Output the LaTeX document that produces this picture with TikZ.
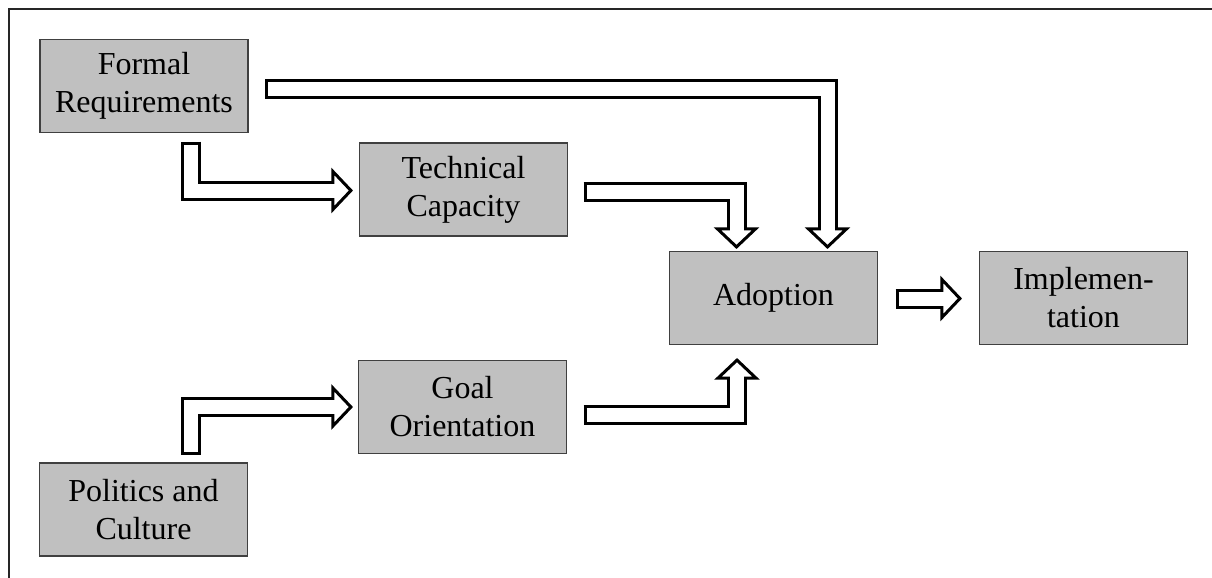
\documentclass[tikz,border=0pt]{standalone}
\usepackage{fontspec}
\setmainfont{Liberation Serif}
\usetikzlibrary{calc}
\definecolor{boxgray}{HTML}{C0C0C0}
\definecolor{boxline}{HTML}{404040}
\tikzset{
  box/.style={draw=boxline, line width=0.6pt, fill=boxgray, inner sep=0pt,
    minimum width=104pt, minimum height=46.5pt, align=center,
    font=\fontsize{16pt}{19pt}\selectfont},
  shaftout/.style={draw=black, line width=10pt, line join=miter, line cap=butt},
  shaftin/.style={draw=white, line width=7pt, line join=miter, line cap=butt, shorten <=1.5pt},
  headst/.style={draw=black, fill=white, line width=1.5pt, line join=miter},
}
\begin{document}
\begin{tikzpicture}[x=0.5pt,y=-0.5pt]
\useasboundingbox (0,0) rectangle (1212,578);
\draw[line width=1pt, draw=black!85] (8.5,600) -- (8.5,8.5) -- (1230,8.5);

\node[box] (fr) at (144,86) {Formal\\Requirements};
\node[box] (tc) at (463.5,189.5) {Technical\\Capacity};
\node[box] (ad) at (773.5,298) {Adoption};
\node[box] (im) at (1083.5,298) {Implemen-\\tation};
\node[box] (go) at (462.5,407) {Goal\\Orientation};
\node[box] (pc) at (143.5,509.5) {Politics and\\Culture};

% key coordinates of the connectors
\coordinate (s1) at ($(fr.east)+(16.5,2.5)$);
\coordinate (t1) at ($(ad.north)+(54,-4)$);
\coordinate (s2) at ($(fr.south)+(46.5,8.5)$);
\coordinate (t2) at ($(tc.west)+(-8,1)$);
\coordinate (s3) at ($(tc.east)+(15.5,2.5)$);
\coordinate (t3) at ($(ad.north)+(-37,-4)$);
\coordinate (s4) at ($(pc.north)+(47.5,-7.5)$);
\coordinate (t4) at ($(go.west)+(-7,0)$);
\coordinate (s5) at ($(go.east)+(16.5,8)$);
\coordinate (t5) at ($(ad.south)+(-36.5,15)$);
\coordinate (s6) at ($(ad.east)+(17.5,0.5)$);
\coordinate (t6) at ($(im.west)+(-19,0.5)$);

% Formal Requirements -> Adoption
\draw[shaftout] (s1) -- (t1 |- s1) -- ($(t1)+(0,-18)$);
\draw[headst] ($(t1)+(-19,-18)$) -- (t1) -- ($(t1)+(19,-18)$) -- cycle;
\draw[shaftin] (s1) -- (t1 |- s1) -- ($(t1)+(0,-16)$);

% Formal Requirements -> Technical Capacity
\draw[shaftout] (s2) -- (s2 |- t2) -- ($(t2)+(-18,0)$);
\draw[headst] ($(t2)+(-18,-19)$) -- (t2) -- ($(t2)+(-18,19)$) -- cycle;
\draw[shaftin] (s2) -- (s2 |- t2) -- ($(t2)+(-16,0)$);

% Technical Capacity -> Adoption
\draw[shaftout] (s3) -- (t3 |- s3) -- ($(t3)+(0,-18)$);
\draw[headst] ($(t3)+(-19,-18)$) -- (t3) -- ($(t3)+(19,-18)$) -- cycle;
\draw[shaftin] (s3) -- (t3 |- s3) -- ($(t3)+(0,-16)$);

% Politics and Culture -> Goal Orientation
\draw[shaftout] (s4) -- (s4 |- t4) -- ($(t4)+(-18,0)$);
\draw[headst] ($(t4)+(-18,-19)$) -- (t4) -- ($(t4)+(-18,19)$) -- cycle;
\draw[shaftin] (s4) -- (s4 |- t4) -- ($(t4)+(-16,0)$);

% Goal Orientation -> Adoption
\draw[shaftout] (s5) -- (t5 |- s5) -- ($(t5)+(0,18)$);
\draw[headst] ($(t5)+(-19,18)$) -- (t5) -- ($(t5)+(19,18)$) -- cycle;
\draw[shaftin] (s5) -- (t5 |- s5) -- ($(t5)+(0,16)$);

% Adoption -> Implementation
\draw[shaftout] (s6) -- ($(t6)+(-18,0)$);
\draw[headst] ($(t6)+(-18,-19)$) -- (t6) -- ($(t6)+(-18,19)$) -- cycle;
\draw[shaftin] (s6) -- ($(t6)+(-16,0)$);
\end{tikzpicture}
\end{document}
